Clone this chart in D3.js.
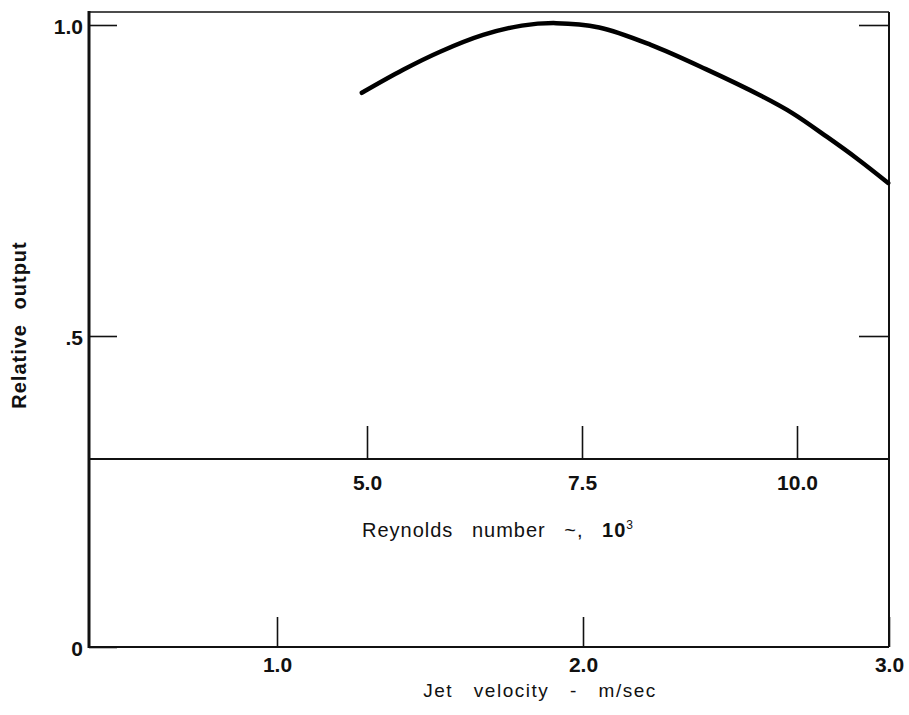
<!DOCTYPE html>
<html>
<head>
<meta charset="utf-8">
<script src="https://cdn.jsdelivr.net/npm/d3@7"></script>
<style>
  body { margin: 0; background: #fff; }
  svg { display: block; font-family: "Liberation Sans", Arial, sans-serif; }
  .tick text { font-size: 21px; font-weight: bold; fill: #111; }
  .tick line { stroke: #111; stroke-width: 1.6; }
</style>
</head>
<body>
<div id="chart"></div>
<script>
let WIDTH = 909;
let HEIGHT = 715;

// upper panel: relative output against Reynolds number (x 10^3)
let reynolds = [4.94, 5.42, 5.85, 6.35, 6.8, 7.2, 7.7, 8.3, 8.94, 9.57, 9.95, 10.35, 10.7, 11.06];
let output = [0.891, 0.928, 0.957, 0.984, 0.999, 1.003, 0.996, 0.968, 0.929, 0.887, 0.858, 0.82, 0.785, 0.746];

let yTicks = [0, 0.5, 1.0];
let yTickLabels = ['0', '.5', '1.0'];
let reTicks = [5.0, 7.5, 10.0];
let velTicks = [1.0, 2.0, 3.0];

let frameLeft = 89, frameRight = 889, frameTop = 12, frameBottom = 647, reLine = 459;

let svg = d3.select('#chart').append('svg')
  .attr('width', WIDTH)
  .attr('height', HEIGHT);

let y = d3.scaleLinear().domain([0, 1]).range([frameBottom, 25]);
let re = d3.scaleLinear().domain([5, 10]).range([367, 797]);
let vel = d3.scaleLinear().domain([1, 3]).range([277, frameRight]);

// frame
svg.append('line').attr('x1', frameLeft).attr('x2', frameRight).attr('y1', frameTop).attr('y2', frameTop)
  .attr('stroke', '#111').attr('stroke-width', 1.6);
svg.append('line').attr('x1', frameRight).attr('x2', frameRight).attr('y1', frameTop).attr('y2', frameBottom)
  .attr('stroke', '#111').attr('stroke-width', 2);

// left axis
let yAxis = svg.append('g')
  .attr('transform', `translate(${frameLeft},0)`)
  .call(d3.axisLeft(y).tickValues(yTicks)
    .tickFormat((d, i) => yTickLabels[i])
    .tickSizeInner(-28).tickSizeOuter(0).tickPadding(6));
yAxis.select('.domain').remove();
yAxis.selectAll('.tick text').attr('dy', '0.4em');
svg.append('line').attr('x1', frameLeft).attr('x2', frameLeft).attr('y1', frameTop - 1).attr('y2', frameBottom + 1)
  .attr('stroke', '#111').attr('stroke-width', 3);

// right-side ticks
let yRight = svg.append('g')
  .attr('transform', `translate(${frameRight},0)`)
  .call(d3.axisRight(y).tickValues([0.5, 1.0]).tickFormat('')
    .tickSizeInner(-30).tickSizeOuter(0));
yRight.select('.domain').remove();

// Reynolds number axis
let reAxis = svg.append('g')
  .attr('transform', `translate(0,${reLine})`)
  .call(d3.axisBottom(re).tickValues(reTicks).tickFormat(d3.format('.1f'))
    .tickSizeInner(-33).tickSizeOuter(0).tickPadding(16));
reAxis.select('.domain').remove();
svg.append('line').attr('x1', frameLeft).attr('x2', frameRight).attr('y1', reLine).attr('y2', reLine)
  .attr('stroke', '#111').attr('stroke-width', 2);

// jet velocity axis
let velAxis = svg.append('g')
  .attr('transform', `translate(0,${frameBottom})`)
  .call(d3.axisBottom(vel).tickValues(velTicks).tickFormat(d3.format('.1f'))
    .tickSizeInner(-30).tickSizeOuter(0).tickPadding(10));
velAxis.select('.domain').remove();
svg.append('line').attr('x1', frameLeft).attr('x2', frameRight).attr('y1', frameBottom).attr('y2', frameBottom)
  .attr('stroke', '#111').attr('stroke-width', 2);

// curve
let line = d3.line()
  .x((d, i) => re(reynolds[i]))
  .y((d) => y(d))
  .curve(d3.curveCatmullRom);
svg.append('path')
  .datum(output)
  .attr('d', line)
  .attr('fill', 'none')
  .attr('stroke', '#000')
  .attr('stroke-width', 4.5)
  .attr('stroke-linecap', 'round');

// axis titles
let reTitle = svg.append('text')
  .attr('x', 498).attr('y', 537)
  .attr('text-anchor', 'middle')
  .attr('font-size', 20)
  .attr('letter-spacing', 1)
  .attr('word-spacing', 12)
  .attr('fill', '#111');
reTitle.append('tspan').text('Reynolds number ~, ');
reTitle.append('tspan').attr('font-weight', 'bold').text('10');
reTitle.append('tspan').attr('font-size', 12).attr('dy', -8).text('3');

svg.append('text')
  .attr('x', 540).attr('y', 697)
  .attr('text-anchor', 'middle')
  .attr('font-size', 19)
  .attr('letter-spacing', 1.5)
  .attr('word-spacing', 14)
  .attr('fill', '#111')
  .text('Jet velocity - m/sec');

svg.append('text')
  .attr('transform', 'translate(26,325) rotate(-90)')
  .attr('text-anchor', 'middle')
  .attr('font-size', 20)
  .attr('font-weight', 'bold')
  .attr('letter-spacing', 1)
  .attr('word-spacing', 8)
  .attr('fill', '#111')
  .text('Relative output');
</script>
</body>
</html>
